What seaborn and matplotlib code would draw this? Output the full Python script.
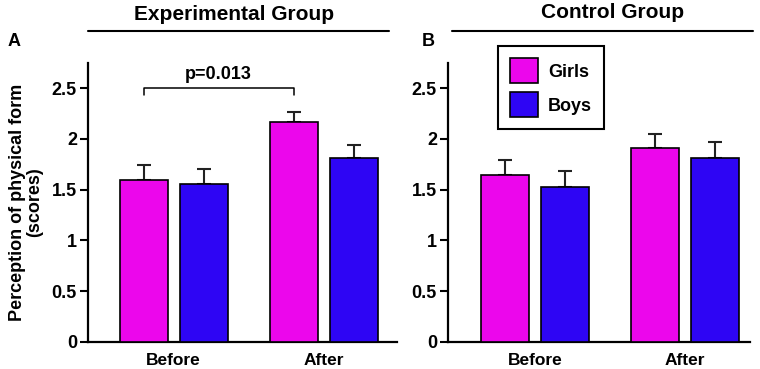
import numpy as np
import pandas as pd
import matplotlib
matplotlib.use("Agg")
import matplotlib.pyplot as plt
import seaborn as sns

sns.set_style("ticks")
plt.rcParams['font.family'] = ['Liberation Sans', 'DejaVu Sans']
plt.rcParams['font.weight'] = 'bold'
plt.rcParams['text.color'] = 'black'
plt.rcParams['axes.labelcolor'] = 'black'
plt.rcParams['xtick.color'] = 'black'
plt.rcParams['ytick.color'] = 'black'
plt.rcParams['axes.edgecolor'] = 'black'

times = ["Before", "After"]
sexes = ["Girls", "Boys"]
exp_girls = [1.59, 2.17]
exp_boys = [1.56, 1.81]
exp_girls_se = [0.15, 0.09]
exp_boys_se = [0.14, 0.125]
ctl_girls = [1.64, 1.91]
ctl_boys = [1.53, 1.81]
ctl_girls_se = [0.15, 0.14]
ctl_boys_se = [0.15, 0.155]
yticks = [0, 0.5, 1, 1.5, 2, 2.5]
ytick_labels = ["0", "0.5", "1", "1.5", "2", "2.5"]
colors = {"Girls": "#EC06EC", "Boys": "#2E05F4"}

def make_df(g, b, gse, bse):
    rows = []
    for i, t in enumerate(times):
        rows.append(dict(time=t, sex="Girls", value=g[i], se=gse[i]))
        rows.append(dict(time=t, sex="Boys", value=b[i], se=bse[i]))
    return pd.DataFrame(rows)

df_exp = make_df(exp_girls, exp_boys, exp_girls_se, exp_boys_se)
df_ctl = make_df(ctl_girls, ctl_boys, ctl_girls_se, ctl_boys_se)

fig = plt.figure(figsize=(7.6, 3.69), dpi=100)
axA = fig.add_axes([88/760, 27/369, 309/760, 0.757])
axB = fig.add_axes([448/760, 27/369, 302/760, 0.757])

def draw(ax, df, xlim):
    sns.barplot(data=df, x="time", y="value", hue="sex", order=times,
                hue_order=sexes, palette=colors, errorbar=None, saturation=1,
                width=0.8, gap=0.2, edgecolor="black", linewidth=1.2,
                ax=ax, zorder=3)
    order_key = {"Girls": 0, "Boys": 1, "Before": 0, "After": 1}
    df_sorted = df.sort_values(by=["sex", "time"],
                               key=lambda s: s.map(order_key))
    for patch, (_, row) in zip(ax.patches, df_sorted.iterrows()):
        xc = patch.get_x() + patch.get_width() / 2
        top = patch.get_height()
        ax.errorbar([xc], [top], yerr=[[0], [row["se"]]], fmt="none",
                    ecolor="#222222", elinewidth=1.5, capsize=5,
                    capthick=1.5, zorder=2)
    ax.set_ylim(0, 2.75)
    ax.set_xlim(*xlim)
    ax.set_yticks(yticks)
    ax.set_yticklabels(ytick_labels)
    ax.set_xlabel("")
    ax.set_ylabel("")
    ax.tick_params(axis="y", length=6, width=1.5, labelsize=13, pad=2)
    ax.tick_params(axis="x", length=0, labelsize=12.5, pad=8)
    for lab in ax.get_xticklabels() + ax.get_yticklabels():
        lab.set_fontweight("bold")
    sns.despine(ax=ax)
    for sp in ("left", "bottom"):
        ax.spines[sp].set_linewidth(1.6)
    leg = ax.get_legend()
    if leg is not None:
        leg.remove()

draw(axA, df_exp, (-0.57, 1.49))
draw(axB, df_ctl, (-0.58, 1.435))

axA.set_ylabel("Perception of physical form\n(scores)", fontsize=13,
               fontweight="bold", labelpad=6, linespacing=1.0)

# significance bracket
axA.plot([-0.2, -0.2, 0.8, 0.8], [2.43, 2.5, 2.5, 2.43], color="black", lw=1.1)
axA.text(0.3, 2.55, "p=0.013", ha="center", va="bottom", fontsize=13,
         fontweight="bold")

# legend
handles = [plt.Rectangle((0, 0), 1, 1, facecolor=colors[s], edgecolor="black",
                         linewidth=1.2) for s in sexes]
leg = axB.legend(handles, sexes, loc="upper left", bbox_to_anchor=(0.166, 1.058),
                 frameon=True, fancybox=False, edgecolor="black", framealpha=1,
                 prop={"weight": "bold", "size": 13}, handlelength=1.55,
                 handleheight=1.75, borderpad=0.65, labelspacing=0.5,
                 handletextpad=0.55, borderaxespad=0)
leg.get_frame().set_linewidth(1.5)

# group titles with lines
fig.text(234/760, 1 - 15/369, "Experimental Group", ha="center", va="center",
         fontsize=15, fontweight="bold")
fig.text(613/760, 1 - 13/369, "Control Group", ha="center", va="center",
         fontsize=15, fontweight="bold")
fig.add_artist(plt.Line2D([88/760, 389/760], [1 - 30.5/369] * 2,
                          color="black", lw=1.5))
fig.add_artist(plt.Line2D([452/760, 753/760], [1 - 31/369] * 2,
                          color="black", lw=1.5))
fig.text(14/760, 1 - 41/369, "A", ha="center", va="center", fontsize=13,
         fontweight="bold")
fig.text(428/760, 1 - 42/369, "B", ha="center", va="center", fontsize=13,
         fontweight="bold")

fig.savefig("out.png", dpi=100)
